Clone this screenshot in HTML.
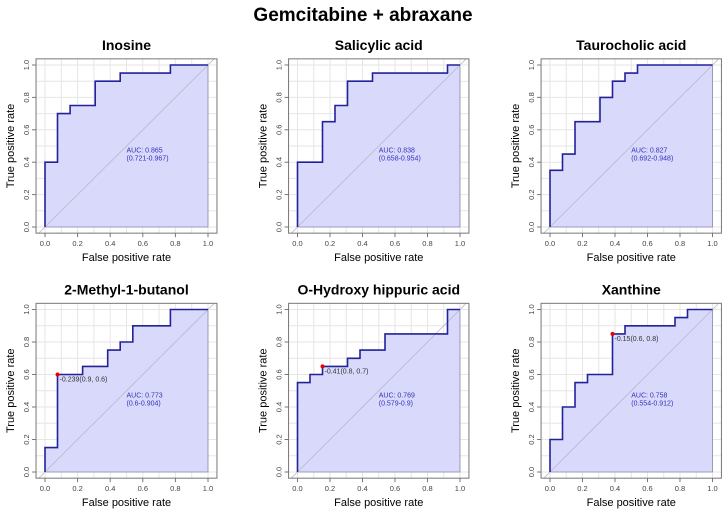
<!DOCTYPE html>
<html><head><meta charset="utf-8">
<style>
body{margin:0;background:#fff;font-family:"Liberation Sans",sans-serif;}
svg{display:block}
</style></head>
<body>
<svg id="c" width="727" height="516" xmlns="http://www.w3.org/2000/svg">
<text x="363" y="21" text-anchor="middle" font-size="19" font-weight="bold" fill="#000">Gemcitabine + abraxane</text>
</svg>
<script>
const titles = ["Inosine","Salicylic acid","Taurocholic acid","2-Methyl-1-butanol","O-Hydroxy hippuric acid","Xanthine"];
const fprSteps = [
 [0,0,1,1,2,2,4,4,6,6,10,10,13],
 [0,0,2,2,3,3,4,4,6,6,12,12,13],
 [0,0,1,1,2,2,4,4,5,5,6,6,7,7,13],
 [0,0,1,1,3,3,5,5,6,6,7,7,10,10,13],
 [0,0,1,1,2,2,4,4,5,5,7,7,12,12,13],
 [0,0,1,1,2,2,3,3,5,5,6,6,10,10,11,11,13]
];
const tprValues = [
 [0,0.4,0.4,0.7,0.7,0.75,0.75,0.9,0.9,0.95,0.95,1,1],
 [0,0.4,0.4,0.65,0.65,0.75,0.75,0.9,0.9,0.95,0.95,1,1],
 [0,0.35,0.35,0.45,0.45,0.65,0.65,0.8,0.8,0.9,0.9,0.95,0.95,1,1],
 [0,0.15,0.15,0.6,0.6,0.65,0.65,0.75,0.75,0.8,0.8,0.9,0.9,1,1],
 [0,0.55,0.55,0.6,0.6,0.65,0.65,0.7,0.7,0.75,0.75,0.85,0.85,1,1],
 [0,0.2,0.2,0.4,0.4,0.55,0.55,0.6,0.6,0.85,0.85,0.9,0.9,0.95,0.95,1,1]
];
const aucLabels = ["AUC: 0.865","AUC: 0.838","AUC: 0.827","AUC: 0.773","AUC: 0.769","AUC: 0.758"];
const ciLabels = ["(0.721-0.967)","(0.658-0.954)","(0.692-0.948)","(0.6-0.904)","(0.579-0.9)","(0.554-0.912)"];
const thrX = [null,null,null,1/13,2/13,5/13];
const thrY = [null,null,null,0.6,0.65,0.85];
const thrLabels = [null,null,null,"-0.239(0.9, 0.6)","-0.41(0.8, 0.7)","-0.15(0.6, 0.8)"];
const ticks = [0,0.2,0.4,0.6,0.8,1.0];
const tickLabels = ["0.0","0.2","0.4","0.6","0.8","1.0"];

const svg = document.getElementById('c');
const NS = "http://www.w3.org/2000/svg";
function mk(tag, attrs, parent){const e=document.createElementNS(NS,tag);for(const k in attrs)e.setAttribute(k,attrs[k]);(parent||svg).appendChild(e);return e;}
const colX0=[45,297.5,550], colX1=[208,460,712.5];
const rowY0=[227,472], rowY1=[65,309.5];
for(let p=0;p<6;p++){
  const col=p%3,row=Math.floor(p/3);
  const x0=colX0[col],x1=colX1[col],y0=rowY0[row],y1=rowY1[row];
  const sx=v=>x0+v*(x1-x0), sy=v=>y0-v*(y0-y1);
  const padX=0.055*(x1-x0), padY=0.038*(y0-y1);
  const bl=x0-padX,br=x1+padX,bt=y1-padY,bb=y0+padY;
  const g=mk('g',{});
  
  
  const cid='clip'+p;
  const cp=mk('clipPath',{id:cid},g);mk('rect',{x:bl,y:bt,width:br-bl,height:bb-bt},cp);
  // grid
  for(let i=0;i<=10;i++){
    const v=i/10;
    mk('line',{x1:sx(v),x2:sx(v),y1:bt,y2:bb,stroke:'#e6e6e6','stroke-width':1},g);
    mk('line',{x1:bl,x2:br,y1:sy(v),y2:sy(v),stroke:'#e6e6e6','stroke-width':1},g);
  }
  // fill
  const fx=fprSteps[p].map(v=>v/13), ty=tprValues[p];
  let pts=fx.map((v,i)=>sx(v).toFixed(1)+','+sy(ty[i]).toFixed(1));
  const area=mk('polygon',{points:pts.join(' ')+' '+sx(1)+','+sy(0),fill:'#d9d9fb',stroke:'#8888aa','stroke-width':0.8},g);
  
  
  // diagonal
  mk('line',{x1:sx(-0.1),y1:sy(-0.1),x2:sx(1.1),y2:sy(1.1),stroke:'#b8b8cc','stroke-width':0.8,'clip-path':'url(#'+cid+')'},g);
  const curve=mk('polyline',{points:pts.join(' '),fill:'none',stroke:'#22229a','stroke-width':1.6},g);
  
  
  // box
  mk('rect',{x:bl,y:bt,width:br-bl,height:bb-bt,fill:'none',stroke:'#777','stroke-width':1},g);
  // ticks
  ticks.forEach((v,i)=>{
    mk('line',{x1:sx(v),x2:sx(v),y1:bb,y2:bb+4,stroke:'#777'},g);
    const t=mk('text',{x:sx(v),y:bb+13,'font-size':7.5,'text-anchor':'middle',fill:'#444'},g);t.textContent=tickLabels[i];
    mk('line',{x1:bl-4,x2:bl,y1:sy(v),y2:sy(v),stroke:'#777'},g);
    const tt=mk('text',{x:bl-7,y:sy(v),'font-size':7.5,'text-anchor':'middle',fill:'#444',transform:'rotate(-90 '+(bl-7)+' '+sy(v)+')'},g);tt.textContent=tickLabels[i];
  });
  const ti=mk('text',{x:(bl+br)/2,y:bt-9,'font-size':14,'font-weight':'bold','text-anchor':'middle',fill:'#000'},g);ti.textContent=titles[p];
  
  
  const xl=mk('text',{x:(bl+br)/2,y:bb+28,'font-size':11,'text-anchor':'middle',fill:'#000'},g);xl.textContent='False positive rate';
  
  
  const yx=bl-22,yy=(bt+bb)/2;
  const yl=mk('text',{x:yx,y:yy,'font-size':11,'text-anchor':'middle',fill:'#000',transform:'rotate(-90 '+yx+' '+yy+')'},g);yl.textContent='True positive rate';
  
  
  const a=mk('text',{x:sx(0.5),y:sy(0.46),'font-size':7,fill:'#3333bb'},g);a.textContent=aucLabels[p];
  
  
  const c=mk('text',{x:sx(0.5),y:sy(0.41),'font-size':7,fill:'#3333bb'},g);c.textContent=ciLabels[p];
  
  
  if(thrX[p]!==null){
    const d=mk('circle',{cx:sx(thrX[p]),cy:sy(thrY[p]),r:2,fill:'#ee0000'},g);
    
    
    const tl=mk('text',{x:sx(thrX[p])+2,y:sy(thrY[p])+7,'font-size':7,fill:'#333'},g);tl.textContent=thrLabels[p];
    
    
  }
}
</script>
</body></html>
